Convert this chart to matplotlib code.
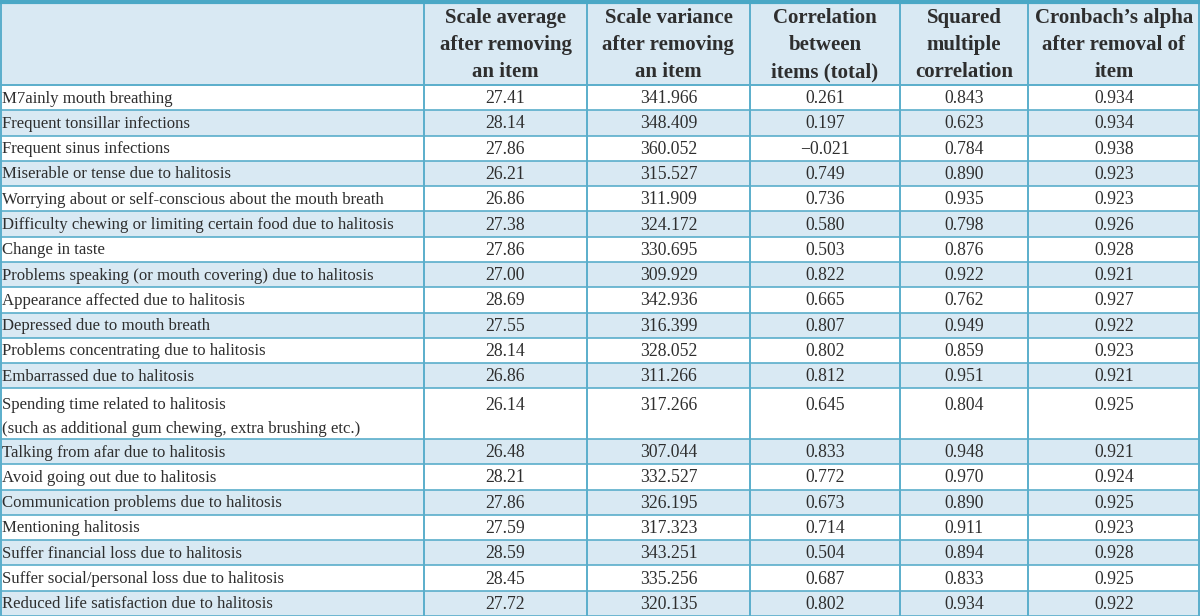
import matplotlib.pyplot as plt
from matplotlib.patches import Rectangle

headers = ['',
           'Scale average\nafter removing\nan item',
           'Scale variance\nafter removing\nan item',
           'Correlation\nbetween\nitems (total)',
           'Squared\nmultiple\ncorrelation',
           'Cronbach\u2019s alpha\nafter removal of\nitem']

items = [
    'M7ainly mouth breathing',
    'Frequent tonsillar infections',
    'Frequent sinus infections',
    'Miserable or tense due to halitosis',
    'Worrying about or self-conscious about the mouth breath',
    'Difficulty chewing or limiting certain food due to halitosis',
    'Change in taste',
    'Problems speaking (or mouth covering) due to halitosis',
    'Appearance affected due to halitosis',
    'Depressed due to mouth breath',
    'Problems concentrating due to halitosis',
    'Embarrassed due to halitosis',
    'Spending time related to halitosis\n(such as additional gum chewing, extra brushing etc.)',
    'Talking from afar due to halitosis',
    'Avoid going out due to halitosis',
    'Communication problems due to halitosis',
    'Mentioning halitosis',
    'Suffer financial loss due to halitosis',
    'Suffer social/personal loss due to halitosis',
    'Reduced life satisfaction due to halitosis',
]

scale_avg = ['27.41', '28.14', '27.86', '26.21', '26.86', '27.38', '27.86', '27.00', '28.69', '27.55',
             '28.14', '26.86', '26.14', '26.48', '28.21', '27.86', '27.59', '28.59', '28.45', '27.72']
scale_var = ['341.966', '348.409', '360.052', '315.527', '311.909', '324.172', '330.695', '309.929',
             '342.936', '316.399', '328.052', '311.266', '317.266', '307.044', '332.527', '326.195',
             '317.323', '343.251', '335.256', '320.135']
corr_total = ['0.261', '0.197', '\u22120.021', '0.749', '0.736', '0.580', '0.503', '0.822', '0.665', '0.807',
              '0.802', '0.812', '0.645', '0.833', '0.772', '0.673', '0.714', '0.504', '0.687', '0.802']
sq_mult = ['0.843', '0.623', '0.784', '0.890', '0.935', '0.798', '0.876', '0.922', '0.762', '0.949',
           '0.859', '0.951', '0.804', '0.948', '0.970', '0.890', '0.911', '0.894', '0.833', '0.934']
alpha = ['0.934', '0.934', '0.938', '0.923', '0.923', '0.926', '0.928', '0.921', '0.927', '0.922',
         '0.923', '0.921', '0.925', '0.921', '0.924', '0.925', '0.923', '0.928', '0.925', '0.922']

W, H = 1200, 616
col_edges = [0, 424, 587, 750, 900, 1028, 1200]
header_h = 85
line_color = '#5aaecb'
band_color = '#d9e9f3'
font = ['Liberation Serif', 'DejaVu Serif']
text_color = '#2e2e2e'
item_size = 12.1
num_size = 12.7

fig = plt.figure(figsize=(12, 6.16), dpi=100)
ax = fig.add_axes([0, 0, 1, 1])
ax.set_xlim(0, W)
ax.set_ylim(H, 0)
ax.axis('off')

# row heights: two-line row takes two units
units = [item.count('\n') + 1 for item in items]
unit_h = (H - header_h) / sum(units)

# header
ax.add_patch(Rectangle((0, 0), W, header_h, facecolor=band_color, edgecolor='none'))
for j, h in enumerate(headers):
    if not h:
        continue
    cx = (col_edges[j] + col_edges[j + 1]) / 2
    for k, line in enumerate(h.split('\n')):
        ax.text(cx, 18 + k * 27, line, ha='center', va='center', fontsize=15, fontweight='bold',
                family=font, color=text_color)

y = header_h
columns = [scale_avg, scale_var, corr_total, sq_mult, alpha]
for i, item in enumerate(items):
    rh = units[i] * unit_h
    if i % 2 == 1:
        ax.add_patch(Rectangle((0, y), W, rh, facecolor=band_color, edgecolor='none'))
    ty = y + unit_h / 2 + 1
    if units[i] > 1:
        ty += 3
    for k, line in enumerate(item.split('\n')):
        ax.text(2, ty + k * 24, line, ha='left', va='center', fontsize=item_size,
                family=font, color=text_color)
    for j, col in enumerate(columns):
        cx = (col_edges[j + 1] + col_edges[j + 2]) / 2
        ax.text(cx, ty, col[i], ha='center', va='center', fontsize=num_size, family=font,
                color=text_color)
    y += rh
    ax.plot([0, W], [y, y], color=line_color, lw=1.2)

ax.plot([0, W], [header_h, header_h], color=line_color, lw=1.4)
for x in col_edges:
    xx = min(max(x, 0.8), W - 0.8)
    ax.plot([xx, xx], [0, H], color=line_color, lw=1.4)
ax.plot([0, W], [1.5, 1.5], color='#4aa8c6', lw=3)

fig.savefig('out.png', dpi=100)
